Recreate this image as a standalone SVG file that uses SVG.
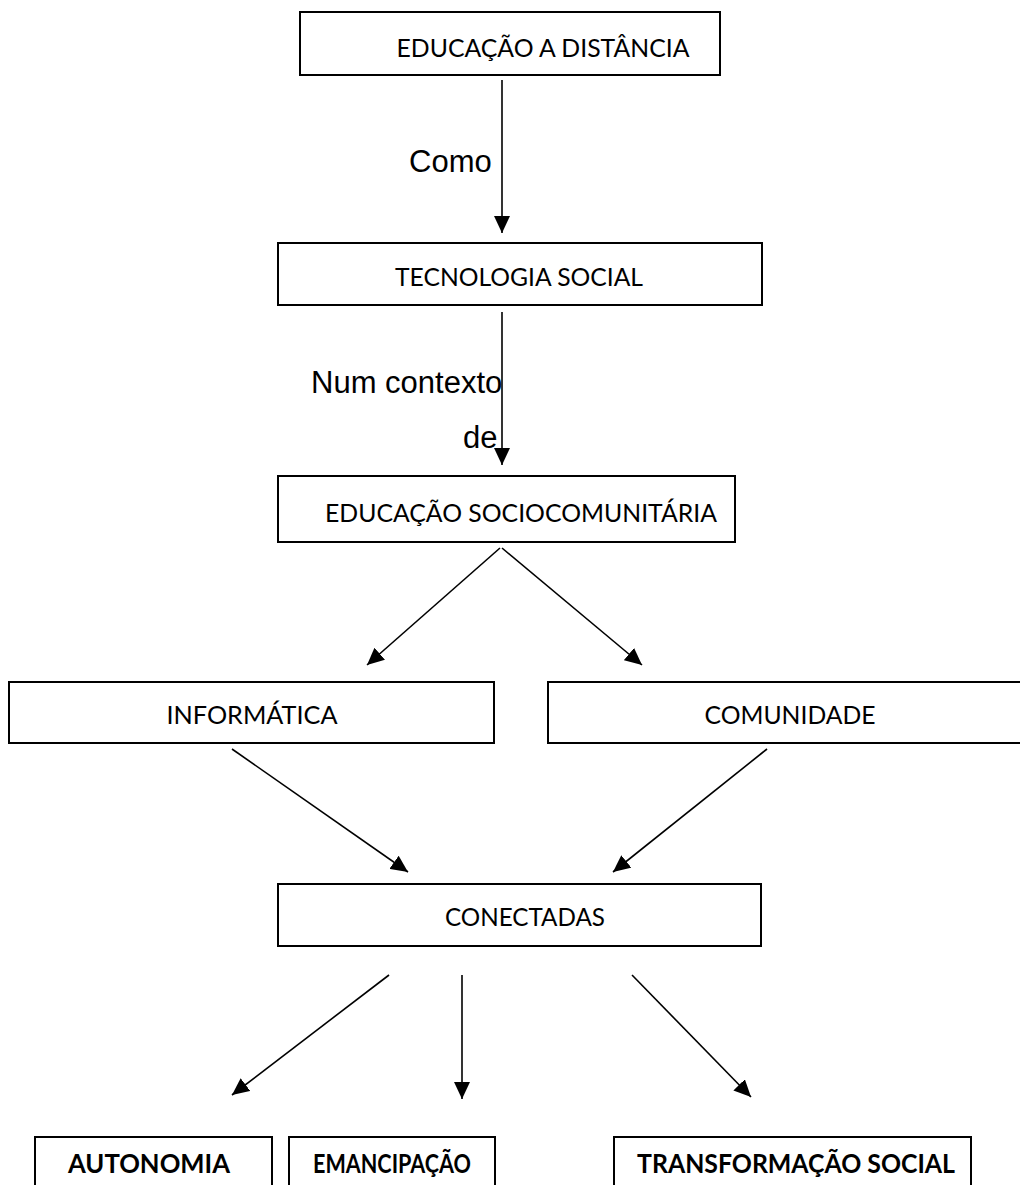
<svg xmlns="http://www.w3.org/2000/svg" width="1020" height="1185" viewBox="0 0 1020 1185">
<style>
.box{fill:#fff;stroke:#000;stroke-width:2}
.lbl{font-family:Lato,"Open Sans",sans-serif;font-size:25px;fill:#000;text-anchor:middle}
.bold{font-weight:bold;font-size:26px}
.conn{stroke:#000;stroke-width:1.6;fill:none;marker-end:url(#ah)}
.note{font-family:"Liberation Sans",Arial,sans-serif;font-size:31px;fill:#000}
</style>
<defs>
<marker id="ah" markerUnits="userSpaceOnUse" markerWidth="18" markerHeight="16" refX="17" refY="8" orient="auto">
<path d="M0,0 L17,8 L0,16 Z" fill="#000"/>
</marker>
</defs>
<rect width="1020" height="1185" fill="#fff"/>
<g id="connectors">
<line class="conn" x1="502" y1="80" x2="502" y2="233"/>
<line class="conn" x1="502" y1="312" x2="502" y2="465"/>
<line class="conn" x1="500" y1="548" x2="367" y2="665"/>
<line class="conn" x1="502" y1="548" x2="642" y2="665"/>
<line class="conn" x1="232" y1="749" x2="408" y2="872"/>
<line class="conn" x1="767" y1="749" x2="613" y2="872"/>
<line class="conn" x1="389" y1="975" x2="232" y2="1095"/>
<line class="conn" x1="462" y1="975" x2="462" y2="1099"/>
<line class="conn" x1="632" y1="975" x2="751" y2="1097"/>
</g>
<g id="label-como"><text class="note" x="409" y="172">Como</text></g>
<g id="label-contexto"><text class="note" x="311" y="393">Num contexto</text><text class="note" x="463" y="448">de</text></g>
<g id="n-ead"><rect class="box" x="300" y="12" width="420" height="63"/><text class="lbl" x="543" y="57" textLength="293" lengthAdjust="spacingAndGlyphs">EDUCAÇÃO A DISTÂNCIA</text></g>
<g id="n-tec"><rect class="box" x="278" y="243" width="484" height="62"/><text class="lbl" x="519" y="286" textLength="248" lengthAdjust="spacingAndGlyphs">TECNOLOGIA SOCIAL</text></g>
<g id="n-socio"><rect class="box" x="278" y="476" width="457" height="66"/><text class="lbl" x="521" y="522" textLength="392" lengthAdjust="spacingAndGlyphs">EDUCAÇÃO SOCIOCOMUNITÁRIA</text></g>
<g id="n-info"><rect class="box" x="9" y="682" width="485" height="61"/><text class="lbl" x="252" y="724" textLength="171" lengthAdjust="spacingAndGlyphs">INFORMÁTICA</text></g>
<g id="n-com"><rect class="box" x="548" y="682" width="480" height="61"/><text class="lbl" x="790" y="724" textLength="171" lengthAdjust="spacingAndGlyphs">COMUNIDADE</text></g>
<g id="n-con"><rect class="box" x="278" y="884" width="483" height="62"/><text class="lbl" x="525" y="926" textLength="160" lengthAdjust="spacingAndGlyphs">CONECTADAS</text></g>
<g id="n-aut"><rect class="box" x="35" y="1137" width="237" height="60"/><text class="lbl bold" x="149" y="1173" textLength="162" lengthAdjust="spacingAndGlyphs">AUTONOMIA</text></g>
<g id="n-eman"><rect class="box" x="289" y="1137" width="206" height="60"/><text class="lbl bold" x="392" y="1173" textLength="158" lengthAdjust="spacingAndGlyphs">EMANCIPAÇÃO</text></g>
<g id="n-trans"><rect class="box" x="614" y="1137" width="357" height="60"/><text class="lbl bold" x="796" y="1173" textLength="318" lengthAdjust="spacingAndGlyphs">TRANSFORMAÇÃO SOCIAL</text></g>
</svg>
